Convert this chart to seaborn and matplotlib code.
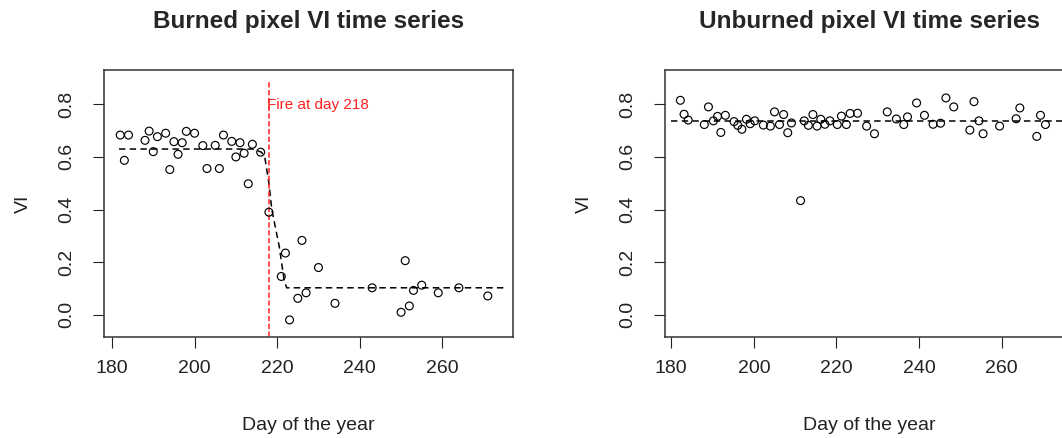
import matplotlib
matplotlib.use("Agg")
import matplotlib.pyplot as plt
import seaborn as sns
import pandas as pd

# ---------------- data ----------------
burned_day = [182, 183, 184, 188, 189, 190, 191, 193, 194, 195, 196, 197, 198,
              200, 202, 203, 205, 206, 207, 209, 210, 211, 212, 213, 214, 216,
              218, 221, 222, 223, 225, 226, 227, 230, 234, 243, 250, 251, 252,
              253, 255, 259, 264, 271]
burned_vi = [0.683, 0.587, 0.683, 0.663, 0.698, 0.620, 0.677, 0.690, 0.552, 0.658,
             0.610, 0.654, 0.697, 0.690, 0.643, 0.556, 0.644, 0.556, 0.683, 0.659,
             0.600, 0.654, 0.614, 0.498, 0.648, 0.618, 0.390, 0.146, 0.235, -0.019,
             0.063, 0.283, 0.084, 0.180, 0.044, 0.103, 0.010, 0.206, 0.034, 0.093,
             0.113, 0.084, 0.103, 0.072]

burned_fit_day = [181.7, 214.0, 216.2, 217.0, 218.0, 218.7, 220.5, 221.7, 222.3, 275.6]
burned_fit_vi = [0.630, 0.630, 0.618, 0.600, 0.500, 0.400, 0.260, 0.130, 0.103, 0.103]

unburned_day = [182.2, 183.1, 184.1, 188.0, 189.0, 190.2, 191.2, 192.0, 193.1, 195.2,
                196.1, 197.1, 198.2, 199.1, 200.2, 202.3, 204.0, 205.0, 206.2, 207.2,
                208.2, 209.1, 211.3, 212.2, 213.2, 214.3, 215.3, 216.2, 217.2, 218.4,
                220.2, 221.2, 222.4, 223.3, 225.1, 227.3, 229.2, 232.3, 234.5, 236.3,
                237.2, 239.4, 241.3, 243.4, 245.2, 246.5, 248.4, 252.3, 253.3, 254.5,
                255.5, 259.5, 263.5, 264.4, 268.5, 269.4, 270.6]
unburned_vi = [0.815, 0.762, 0.740, 0.723, 0.790, 0.737, 0.754, 0.693, 0.758, 0.734,
               0.720, 0.705, 0.743, 0.726, 0.737, 0.721, 0.717, 0.771, 0.723, 0.761,
               0.692, 0.729, 0.434, 0.737, 0.720, 0.761, 0.717, 0.743, 0.724, 0.737,
               0.723, 0.755, 0.723, 0.765, 0.766, 0.717, 0.688, 0.771, 0.744, 0.723,
               0.752, 0.805, 0.758, 0.724, 0.728, 0.824, 0.790, 0.702, 0.810, 0.737,
               0.688, 0.717, 0.745, 0.786, 0.678, 0.758, 0.723]

unburned_fit_day = [180.0, 277.4]
unburned_fit_vi = [0.737, 0.737]

fire_day = 218
fire_line_vi = [-0.2, 0.89]
fire_label = "Fire at day 218"
fire_label_vi = 0.797

x_ticks = [180, 200, 220, 240, 260]
y_ticks = [0.0, 0.2, 0.4, 0.6, 0.8]
y_tick_labels = ["0.0", "0.2", "0.4", "0.6", "0.8"]
titles = ["Burned pixel VI time series", "Unburned pixel VI time series"]
x_label = "Day of the year"
y_label = "VI"

# ---------------- styling ----------------
sns.set_style("white")
plt.rcParams['font.family'] = ['Liberation Sans', 'DejaVu Sans']

fig = plt.figure(figsize=(10.62, 4.38), dpi=100)
W, H = 1062.0, 438.0
box_w = 409.0
box_top, box_bot = 69.5, 337.3
ax1 = fig.add_axes([104.0 / W, (H - box_bot) / H, box_w / W, (box_bot - box_top) / H])
ax2 = fig.add_axes([664.7 / W, (H - box_bot) / H, box_w / W, (box_bot - box_top) / H])

panels = [
    (ax1, burned_day, burned_vi, burned_fit_day, burned_fit_vi, (178.07, 277.1)),
    (ax2, unburned_day, unburned_vi, unburned_fit_day, unburned_fit_vi, (178.41, 277.44)),
]

for i, (ax, d, v, fd, fv, xl) in enumerate(panels):
    pts = pd.DataFrame({"day": d, "vi": v})
    fit = pd.DataFrame({"day": fd, "vi": fv})
    sns.lineplot(data=fit, x="day", y="vi", ax=ax, color="black",
                 linewidth=1.1, estimator=None, sort=True)
    ax.lines[-1].set_dashes((4.2, 2.8))
    sns.scatterplot(data=pts, x="day", y="vi", ax=ax, marker="o", s=32,
                    facecolor="none", edgecolor="black", linewidth=0.85, zorder=3)

    ax.set_xlim(*xl)
    ax.set_ylim(-0.085, 0.932)
    ax.set_xticks(x_ticks)
    ax.set_xticklabels([str(t) for t in x_ticks], fontsize=14)
    ax.set_yticks(y_ticks)
    ax.set_yticklabels(y_tick_labels, fontsize=14, rotation=90, va="center")
    ax.tick_params(axis="both", which="major", direction="out", length=8.0,
                   width=0.8, color="#222222", labelcolor="#222222",
                   bottom=True, left=True, top=False, right=False)
    ax.tick_params(axis="y", pad=12.5)
    ax.tick_params(axis="x", pad=8)
    for sp in ax.spines.values():
        sp.set_visible(True)
        sp.set_color("#333333")
        sp.set_linewidth(1.1)

    ax.set_xlabel(x_label, fontsize=14, color="#222222")
    ax.xaxis.label.set_va("center")
    ax.xaxis.set_label_coords(0.5, -0.3275)
    ax.set_ylabel(y_label, fontsize=14, color="#222222")
    ax.yaxis.label.set_va("center")
    ax.yaxis.set_label_coords(-0.196, 0.5)

    ax.set_title(titles[i], fontsize=17.5, fontweight="bold", y=1.181,
                 va="center", pad=0)

# fire marker on the burned panel
ax1.plot([fire_day, fire_day], fire_line_vi, color="#ff2020", linewidth=1.1,
         dashes=(3.5, 1.6), zorder=2)
ax1.text(fire_day - 0.35, fire_label_vi, fire_label, color="#ff2020",
         fontsize=11, ha="left", va="center")

fig.savefig("out.png", dpi=100)
